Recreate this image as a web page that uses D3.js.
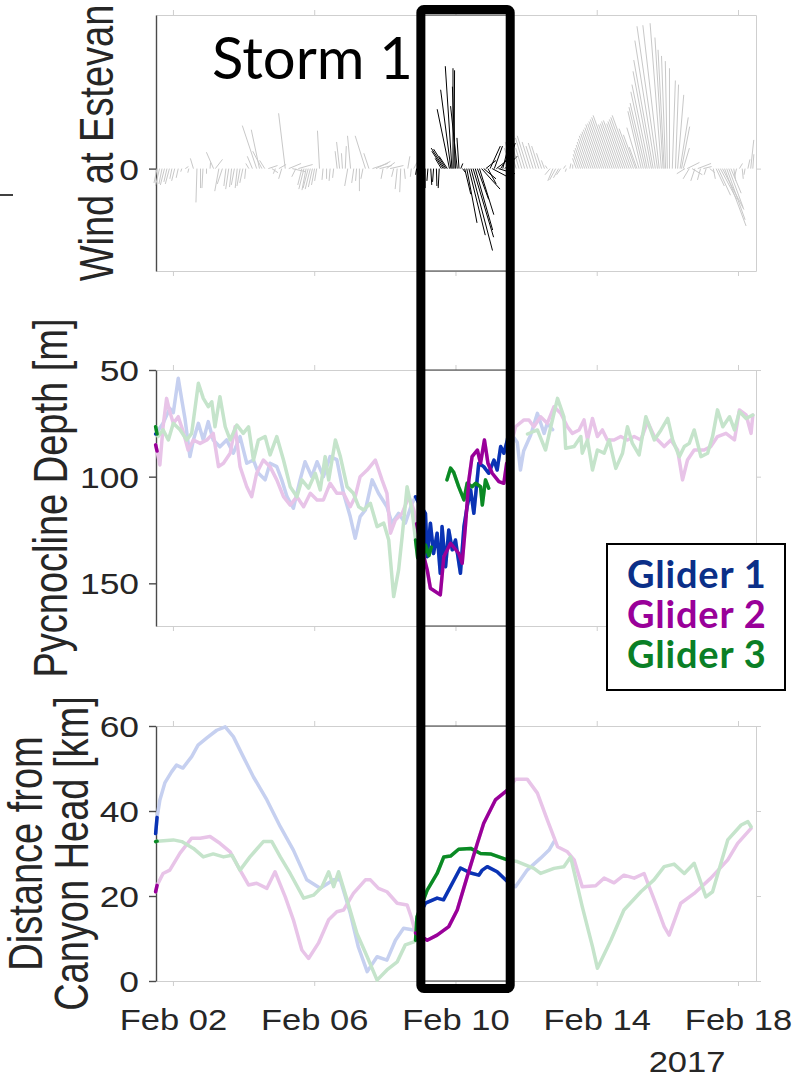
<!DOCTYPE html>
<html>
<head>
<meta charset="utf-8">
<script src="https://cdn.jsdelivr.net/npm/d3@7"></script>
<style>
  body { margin: 0; background: #fff; }
  svg { display: block; }
  .tick text { fill: #262626; }
</style>
</head>
<body>
<div id="chart"></div>
<script>
// ---- wind at Estevan (stick plot): day of Feb 2017, u (east), v (north)
var windDay = [1.55,1.62,1.69,1.76,1.83,1.9,1.97,2.05,2.15,2.25,2.35,2.45,2.58,2.68,2.78,2.85,2.95,3.05,3.15,3.2,
  3.3,3.4,3.5,3.58,3.66,3.74,3.82,3.9,3.98,4.06,4.15,4.25,4.37,4.45,4.52,4.6,4.7,4.8,4.9,5.0,
  5.08,5.18,5.28,5.38,5.48,5.55,5.65,5.71,5.77,5.83,5.89,5.95,6.01,6.07,6.15,6.25,6.35,6.45,6.55,6.65,
  6.72,6.8,6.88,6.95,7.03,7.12,7.2,7.28,7.38,7.45,7.55,7.65,7.75,7.85,7.95,8.05,8.15,8.25,8.35,8.45,
  8.55,8.65,8.75,8.82,
  8.9,8.98,9.06,9.14,9.22,9.3,9.38,9.46,9.54,9.6,9.65,9.69,9.73,9.77,9.83,9.87,9.9,9.93,9.96,10.0,
  10.05,10.1,10.15,10.2,10.26,10.32,10.38,10.44,10.5,10.56,10.62,10.68,10.74,10.8,10.86,10.92,10.98,11.04,11.1,11.16,
  11.22,11.28,11.34,11.4,11.46,
  11.56,11.64,11.72,11.8,11.88,11.96,12.04,12.12,12.2,12.28,12.36,12.44,12.52,12.6,12.68,12.76,12.84,12.92,12.98,13.06,
  13.14,13.24,13.32,13.42,13.48,13.54,13.6,13.66,13.72,13.78,13.84,13.9,13.96,14.02,14.08,14.14,14.2,14.26,14.32,14.38,
  14.44,14.5,14.56,14.62,14.68,14.74,14.8,14.86,14.92,14.98,15.04,15.1,15.14,15.2,
  15.26,15.32,15.38,15.43,15.49,15.55,15.6,15.66,15.72,15.77,15.83,15.88,15.91,15.95,16.0,16.06,16.14,16.23,16.29,16.36,
  16.4,16.45,16.5,16.56,16.62,16.7,16.78,16.86,16.94,17.02,17.1,17.2,17.3,17.38,17.44,17.5,17.56,17.62,17.68,17.74,
  17.8,17.88,17.96,18.04,18.12,18.2,18.28,18.36,18.42];
var windU = [-0.3,-0.4,-0.3,-0.4,-0.3,-0.4,-0.2,-0.3,-0.2,-0.1,0.3,-0.1,-0.3,-0.1,0,-0.1,0,0.05,-0.7,0.7,
  -0.4,-0.5,-0.2,-0.3,-0.2,-0.3,-0.2,-0.3,-0.3,-0.1,-0.3,-0.5,-1.4,-0.8,-0.9,-0.5,0.9,0.6,-0.2,0.7,
  -0.3,-0.65,1.2,1.3,-0.4,1.4,-0.4,-0.5,-0.4,-0.5,-0.5,-0.4,-0.3,-0.2,-0.2,-0.1,0,-0.1,-0.1,-0.2,
  -0.3,-0.1,0.1,-0.3,-0.3,-0.2,-0.1,0,-0.2,-1.0,-0.5,1.5,1.4,1.2,-0.2,0.8,1.3,-0.2,-0.2,-0.1,
  0.1,0.2,-0.1,0.3,
  -0.1,0.1,-0.2,0,-0.1,0.1,-0.1,0.05,-0.1,-0.6,-1.1,-1.3,-1.2,-0.8,-1.2,-1.0,-0.65,0,0.05,-0.3,
  -0.65,-0.2,0.2,0.3,0.6,1.0,1.6,2.1,2.0,1.7,1.1,1.4,1.8,1.2,1.0,0.8,1.0,1.5,0.8,1.3,
  1.6,1.0,0.6,1.2,0.8,
  -0.6,-0.8,-0.85,-0.7,-0.6,-0.9,-1.0,-0.8,-0.7,-0.75,-0.7,-0.5,-0.3,-0.2,-0.5,-0.5,-0.6,-0.5,-0.4,0.2,
  -0.1,0.1,0,-0.36,-0.5,-0.65,-0.72,-0.83,-0.94,-1.04,-1.15,-1.22,-1.3,-1.37,-1.44,-1.55,-1.58,-1.66,-1.73,-1.8,
  -1.87,-1.55,-1.58,-1.66,-1.69,-1.58,-1.66,-1.73,-1.8,-1.87,-1.4,-1.19,-0.76,-1.2,
  -1.3,-1.4,-1.5,-1.6,-1.7,-1.8,-1.9,-2.0,-2.0,-1.6,-1.1,-0.8,-0.6,-0.4,-0.2,0,0.3,0.3,0.6,0.8,
  0.8,0.6,-0.8,1.2,-0.6,1.0,-0.4,1.3,-0.3,0.8,-0.2,0.5,0.2,0.8,1.2,1.6,2.1,2.1,1.8,1.4,
  1.0,0.2,-0.2,0.3,0.1,-0.1,0.2,0.3,0.1];
var windV = [-1.4,-1.7,-1.5,-1.6,-1.3,-1.5,-1.0,-1.2,-0.9,-0.3,0.2,-0.4,1.0,-3.3,-1.9,-1.9,-0.5,0.6,1.6,0.9,
  -2.2,-1.5,-1.7,-2.0,-1.8,-1.6,-1.9,-1.7,-1.4,-1.0,0.5,1.2,4.2,3.8,1.7,0.8,0.3,-0.4,-0.5,0.4,
  -1.0,5.4,0.5,-0.3,-0.8,0.4,-1.6,-2.0,-2.1,-1.9,-2.0,-1.8,-1.6,-1.2,3.7,-1.1,-1.0,-1.2,-0.9,1.7,
  2.6,1.5,2.2,-1.7,3.2,-1.4,-1.2,-2.2,-1.0,3.2,1.5,0.5,0.7,0.3,-1.0,0.6,0.3,-0.8,-2.0,-2.3,
  -1.0,1.2,-0.8,0.6,
  -0.6,0.5,-1.5,-1.9,-1.2,-1.6,-1.3,-1.7,-1.9,1.0,1.7,2.0,1.9,1.2,5.8,7.7,10.0,9.8,9.6,8.0,
  6.1,3.0,0.5,-0.4,-2.5,-5.3,-6.5,-8.0,-6.7,-6.0,-3.0,-4.5,-2.0,-1.0,0.8,-1.5,2.2,-0.8,2.2,1.0,
  -0.5,1.6,2.4,1.2,2.5,
  2.0,2.6,2.8,2.4,2.0,3.0,3.2,2.6,2.2,2.5,2.2,1.5,0.8,0.3,-0.6,-1.2,-1.1,-0.9,-0.6,0.3,
  -0.3,0.5,0.4,1.0,1.4,1.8,2.0,2.3,2.6,2.9,3.2,3.4,3.6,3.8,4.0,4.3,4.4,4.6,4.8,5.0,
  5.2,4.3,4.4,4.6,4.7,4.4,4.6,4.8,5.0,5.2,3.9,3.3,2.1,4.0,
  5.6,6.0,6.4,7.5,8.2,9.5,10.6,12.5,13.9,14.0,14.2,12.8,11.6,11.0,10.5,9.8,8.6,8.2,7.2,5.0,
  4.1,2.0,-0.5,0.6,-1.0,-0.6,-1.2,0.5,-1.1,0.2,-0.6,-0.4,-1.0,-1.7,-2.6,-3.0,-4.0,-5.6,-5.0,-3.8,
  -2.4,-1.2,-0.8,0.5,-1.0,-0.6,0.9,2.8,1.4];

// ---- pycnocline depth [m]
var g1DepthDay = [1.51,1.72,1.91,2.01,2.15,2.25,2.34,2.48,2.58,2.72,2.86,3.00,3.14,3.33,3.52,3.71,3.90,4.09,4.28,4.42,
  4.61,4.75,4.94,5.08,5.23,5.41,5.60,5.74,5.93,6.08,6.26,6.45,6.64,6.83,7.02,7.16,7.30,7.45,7.64,7.82,
  8.06,8.20,8.39,8.58,8.77,8.87,8.95,9.15,9.20,9.29,9.38,9.48,9.57,9.62,9.72,9.81,9.91,10.00,10.14,10.24,
  10.33,10.43,10.52,10.66,10.80,10.94,11.09,11.18,11.28,11.37,11.47,11.51,11.75,11.84,11.93,12.13,12.32,12.51,12.60,12.75];
var g1Depth = [80,75,68,70,53.9,64,72.7,90.6,82.8,75,82.8,74.2,82.8,86,82.8,89,81.2,93.7,92.2,98.4,
  101.5,93.7,95.3,101.5,109.4,114.8,101.5,93,100,93,100,90.6,92,107.8,118.7,128.9,118.7,115.6,101.5,107.8,
  114.1,121.8,117.2,121.8,112.5,109.4,112,117.2,137.5,121.8,136,126.5,145.3,123.4,142.2,125,134.3,129.7,145.3,123.4,
  114.1,106.2,117.2,93.7,95.3,98.4,92.2,96.9,85.9,89,82.8,78.1,84,96.9,88,80.5,70.3,79.7,75,78];
var g2DepthDay = [1.51,1.55,1.63,1.72,1.82,1.91,2.01,2.15,2.29,2.43,2.58,2.77,2.96,3.14,3.29,3.43,3.62,3.76,3.90,4.09,4.23,
  4.37,4.56,4.75,4.94,5.13,5.32,5.51,5.70,5.89,6.08,6.26,6.45,6.64,6.83,7.02,7.16,7.30,7.50,7.73,7.92,
  8.06,8.16,8.30,8.49,8.68,8.82,8.90,9.01,9.20,9.29,9.57,9.67,9.86,10.09,10.19,10.28,10.38,10.47,10.62,10.71,
  10.82,10.92,11.04,11.23,11.37,11.45,11.70,11.94,12.08,12.22,12.41,12.60,12.79,12.98,13.17,13.31,13.50,13.64,13.74,13.88,
  14.02,14.16,14.30,14.49,14.68,14.87,15.06,15.25,15.44,15.63,15.91,16.10,16.29,16.43,16.57,16.76,17.04,17.23,17.42,17.66,
  17.90,18.04,18.23,18.37,18.42];
var g2Depth = [85.1,88,94.5,76.6,63.3,69.5,75,71.9,78.9,87.5,82.8,84.4,82.8,79.7,95.3,93.7,89,76.6,95.3,104.7,109.4,
  98.4,92.2,95.3,101.5,109.4,113.3,109.4,114.1,107.8,110.9,110.9,103.1,107.8,107.8,114.1,109.4,100,96.9,92.2,101.5,
  107.8,126.5,120.3,117.2,109.4,115.6,122,131.2,143.7,152.3,155.4,137.5,131.2,135.9,140.6,123.4,101.5,90.6,87.5,93.7,
  82.8,93.7,98.4,102.3,103.1,93.7,76.6,73.4,73.4,76.6,71.9,75,67.2,70.3,76.6,79.7,78.1,73.4,82.8,72.7,
  81.2,78.1,82.8,82.8,81.2,82.8,81.2,82.8,74.2,81.2,85.9,82.8,87.5,101.5,92.2,87.5,87.5,85.9,81.2,79.7,
  82.8,68.7,71.1,79.7,71.1];
var g3DepthDay = [1.51,1.55,1.58,1.72,1.87,2.01,2.20,2.39,2.53,2.72,2.86,3.00,3.10,3.19,3.33,3.48,3.62,3.81,3.99,4.14,4.28,
  4.42,4.61,4.75,4.94,5.13,5.32,5.51,5.65,5.84,6.03,6.17,6.31,6.41,6.60,6.74,6.93,7.11,7.26,7.40,7.59,
  7.78,7.97,8.11,8.25,8.39,8.49,8.63,8.77,8.87,8.93,9.00,9.08,9.15,9.25,9.32,9.50,9.76,9.86,9.95,10.09,
  10.24,10.33,10.47,10.57,10.71,10.76,10.85,10.94,11.50,12.04,12.32,12.55,12.70,12.89,13.07,13.12,13.36,13.55,13.59,13.74,
  13.88,14.02,14.21,14.35,14.54,14.73,14.87,15.01,15.20,15.39,15.63,15.82,16.01,16.15,16.34,16.48,16.62,16.76,16.95,17.14,
  17.28,17.42,17.57,17.76,17.90,18.04,18.23,18.42];
var g3Depth = [76.6,80,81.2,78,82.8,75,78,82.8,79.7,56.2,63.3,67.2,64.9,76.6,62.5,76.6,82.8,75.8,79.7,76.6,92.2,
  82.8,81.2,89.8,81.2,92.2,104.7,109.4,101.5,105.4,98.4,106.2,90.6,101.5,82.8,90.6,104.7,107.8,114.1,115.6,112.5,
  123.4,121.8,129.7,156.2,143.7,128.1,104.7,115.6,129.7,138,124,139,132,137,133,null,101.5,96,98,104.7,
  110.9,103.1,104.7,103.1,104.7,113.3,101.5,105.4,null,80,78.1,87.5,76.6,63.3,71.9,86.7,85.9,81.2,89,82.8,
  96.9,87.5,89,82.8,96.1,89,76.6,84.4,89.8,71.9,82.8,78.1,72.7,82.8,90.6,85.9,84.4,78.1,90.6,89,
  81.2,68.7,76.6,71.9,78.1,69.5,72.7,71.1];

// ---- distance from canyon head [km]
var g1DistDay = [1.51,1.55,1.63,1.77,1.96,2.10,2.28,2.53,2.71,2.96,3.24,3.48,3.71,3.99,4.28,4.66,5.04,5.41,5.79,6.17,6.55,
  6.74,7.02,7.25,7.50,7.78,8.06,8.30,8.53,8.81,8.91,9.15,9.48,9.66,10.14,10.43,10.66,10.76,10.90,11.18,11.47,
  11.70,12.03,12.41,12.65,12.79];
var g1Dist = [34.7,38.5,42.6,46.6,49.2,50.8,50.1,52.8,55.5,57.2,59.0,59.8,57.5,52.8,48.0,42.6,36.3,30.8,23.8,21.8,23.8,
  23.8,16.0,8.0,2.2,5.7,4.9,9.6,12.4,12.0,14.4,18.3,19.5,19.1,26.6,25.4,24.9,26.1,26.9,25.7,23.4,
  22.2,26.1,28.9,30.8,32.8];
var g2DistDay = [1.51,1.55,1.72,1.91,2.20,2.53,2.77,3.05,3.33,3.62,3.90,4.14,4.37,4.66,4.89,5.18,5.41,5.65,5.84,6.12,6.41,
  6.64,6.83,7.11,7.45,7.59,7.82,8.06,8.35,8.63,8.75,8.87,9.20,9.48,9.81,10.05,10.33,10.62,10.80,11.13,11.47,
  11.70,12.03,12.32,12.60,12.89,13.17,13.36,13.59,13.97,14.21,14.49,14.77,15.06,15.34,15.63,15.91,16.05,16.38,16.76,17.23,
  17.71,17.99,18.37];
var g2Dist = [21.0,22.5,25.3,26.1,30.1,33.6,33.6,34.0,32.4,30.4,26.1,22.6,23.0,21.8,25.7,19.8,14.4,7.3,5.3,8.9,14.4,
  16.3,16.7,20.6,23.8,23.8,21.8,21.0,18.3,17.9,15.0,11.3,9.6,10.8,12.8,16.7,24.5,32.4,37.1,42.6,44.9,
  47.5,47.5,44.2,37.9,31.6,30.4,28.5,22.2,22.4,24.2,23.1,24.9,24.2,25.3,19.1,12.8,10.8,18.3,20.6,24.2,
  28.5,32.4,35.9];
var g3DistDay = [1.51,1.55,2.01,2.25,2.58,2.86,3.14,3.43,3.67,3.90,4.18,4.56,4.80,5.04,5.32,5.70,5.98,6.22,6.41,6.55,6.69,
  6.93,7.21,7.50,7.78,8.06,8.35,8.58,8.82,8.87,8.91,9.20,9.48,9.67,9.86,10.09,10.43,10.71,10.99,11.47,11.75,
  12.22,12.41,12.79,13.07,13.26,13.59,13.88,14.02,14.40,14.77,15.25,15.62,15.91,16.19,16.48,16.76,17.09,17.28,17.71,18.09,
  18.28,18.37];
var g3Dist = [32.8,32.9,33.2,32.8,31.2,29.2,29.9,29.2,29.6,26.1,29.2,32.8,32.8,29.2,25.3,19.5,20.2,22.2,25.7,22.2,25.7,
  19.1,11.2,5.7,0.2,2.6,4.5,8.5,9.2,9.6,15.1,21.4,25.3,29.2,29.4,31.0,31.2,30.0,29.9,28.5,28.1,
  26.5,25.3,26.5,26.9,29.2,17.5,8.1,3.0,9.6,16.7,21.0,23.8,26.9,27.5,25.3,27.7,19.8,21.0,33.2,36.7,
  37.5,36.3];

// ---- labels, ticks, colours
var gliderNames = ["Glider 1", "Glider 2", "Glider 3"];
var gliderDark = ["#0a33b4", "#990099", "#0a8a24"];
var gliderPale = ["#c6d0f0", "#e8c4e8", "#c5e4cb"];
var legendColors = ["#0b2f88", "#990099", "#0a7f26"];
var stormWindows = [[1.5, 1.56], [8.86, 11.52]];
var stormBox = [9.02, 11.55];
var xTickDays = [2, 6, 10, 14, 18];
var windTicks = [0], depthTicks = [50, 100, 150], distTicks = [0, 20, 40, 60];
var yLabels = [["Wind at Estevan"], ["Pycnocline Depth [m]"], ["Distance from", "Canyon Head [km]"]];

var W = 792, H = 1080;
var tickFont = '"Liberation Sans", Arial, Helvetica, sans-serif';
var toDate = function(day){ return new Date(Date.UTC(2017, 1, 1) + (day - 1) * 864e5); };
var inStorm = function(day){ return stormWindows.some(function(w){ return day >= w[0] && day <= w[1]; }); };

var svg = d3.select("#chart").append("svg").attr("width", W).attr("height", H);

var x = d3.scaleUtc().domain([toDate(1.52), toDate(18.51)]).range([156, 756]);
var yWind = d3.scaleLinear().domain([-10, 15]).range([271, 15]);
var yDepth = d3.scaleLinear().domain([50, 170]).range([370, 626]);
var yDist = d3.scaleLinear().domain([0, 60]).range([981, 726]);

var panels = [
  {y: yWind, ticks: windTicks, top: 15, bottom: 271, label: yLabels[0], lx: [113]},
  {y: yDepth, ticks: depthTicks, top: 370, bottom: 626, label: yLabels[1], lx: [67]},
  {y: yDist, ticks: distTicks, top: 726, bottom: 981, label: yLabels[2], lx: [42, 88]}
];
var xTickDates = xTickDays.map(toDate);

panels.forEach(function(p, i){
  var g = svg.append("g").attr("class", "frame");
  g.append("g").attr("transform", "translate(0," + p.top + ")")
    .call(d3.axisTop(x).tickValues(xTickDates).tickSize(5).tickSizeOuter(0).tickFormat(""));
  var bot = g.append("g").attr("transform", "translate(0," + p.bottom + ")")
    .call(d3.axisBottom(x).tickValues(xTickDates).tickSize(5).tickSizeOuter(0)
      .tickFormat(i == 2 ? d3.utcFormat("%b %d") : ""));
  g.append("g").attr("transform", "translate(756,0)")
    .call(d3.axisRight(p.y).tickValues(p.ticks).tickSize(5).tickSizeOuter(0).tickFormat(""));
  g.selectAll(".domain, .tick line").attr("stroke", "#cfcfcf").attr("stroke-width", 1);

  var left = g.append("g").attr("transform", "translate(156,0)")
    .call(d3.axisLeft(p.y).tickValues(p.ticks).tickSize(7).tickSizeOuter(0));
  left.selectAll(".domain, .tick line").attr("stroke", "#4a4a4a").attr("stroke-width", 1.4);
  left.selectAll(".tick text").attr("x", null).attr("dy", "0.35em")
    .attr("transform", "translate(-17,0) scale(1.18,1)")
    .style("font-family", tickFont).style("font-size", "30px");

  if (i == 2) {
    bot.selectAll(".tick text").attr("y", null).attr("dy", null)
      .attr("transform", "translate(0,49) scale(1.15,1)")
      .style("font-family", tickFont).style("font-size", "30px");
  }

  // darker frame pieces inside the storm box
  var bx0 = x(toDate(stormBox[0])), bx1 = x(toDate(stormBox[1]));
  [p.top, p.bottom].forEach(function(yy){
    g.append("line").attr("x1", bx0).attr("x2", bx1).attr("y1", yy).attr("y2", yy)
      .attr("stroke", "#3a3a3a").attr("stroke-width", 1);
  });

  p.label.forEach(function(t, k){
    g.append("text")
      .attr("transform", "translate(" + p.lx[k] + "," + ((p.top + p.bottom) / 2) + ") rotate(-90) scale(1,1.25)")
      .attr("text-anchor", "middle")
      .style("font-family", tickFont).style("font-size", "38px").attr("fill", "#262626")
      .text(t);
  });
});

// year under the last tick
svg.append("text").attr("transform", "translate(687,1072) scale(1.15,1)")
  .attr("text-anchor", "middle").style("font-family", tickFont).style("font-size", "30px")
  .attr("fill", "#262626").text("2017");

// ---- wind sticks
var unitPx = yWind(0) - yWind(1);
var sticks = windDay.map(function(d, i){ return {t: d, u: windU[i], v: windV[i]}; });
svg.append("g").selectAll("line").data(sticks).enter().append("line")
  .attr("x1", function(d){ return x(toDate(d.t)); })
  .attr("y1", yWind(0))
  .attr("x2", function(d){ return x(toDate(d.t)) + d.u * unitPx; })
  .attr("y2", function(d){ return yWind(d.v); })
  .attr("stroke", function(d){ return inStorm(d.t) && d.t > 2 ? "#000" : "#c8c8c8"; })
  .attr("stroke-width", 1);

// ---- glider lines
function series(days, vals){ return days.map(function(d, i){ return {t: d, v: vals[i]}; }); }
var depthSeries = [series(g1DepthDay, g1Depth), series(g2DepthDay, g2Depth), series(g3DepthDay, g3Depth)];
var distSeries = [series(g1DistDay, g1Dist), series(g2DistDay, g2Dist), series(g3DistDay, g3Dist)];

function drawLines(list, y){
  var pale = d3.line().defined(function(d){ return d.v != null; })
    .x(function(d){ return x(toDate(d.t)); }).y(function(d){ return y(d.v); });
  var dark = d3.line().defined(function(d){ return d.v != null && inStorm(d.t); })
    .x(function(d){ return x(toDate(d.t)); }).y(function(d){ return y(d.v); });
  var g = svg.append("g").attr("fill", "none").attr("stroke-width", 3.5)
    .attr("stroke-linejoin", "round").attr("stroke-linecap", "round");
  list.forEach(function(s, i){
    g.append("path").attr("d", pale(s)).attr("stroke", gliderPale[i]);
  });
  [0, 2, 1].forEach(function(i){
    g.append("path").attr("d", dark(list[i])).attr("stroke", gliderDark[i]);
  });
}
drawLines(depthSeries, yDepth);
drawLines(distSeries, yDist);

// ---- storm annotation
svg.append("text").attr("x", 212).attr("y", 79)
  .style("font-family", "Lato, 'Open Sans', sans-serif").style("font-size", "58px")
  .attr("fill", "#000").text("Storm 1");
svg.append("rect")
  .attr("x", x(toDate(stormBox[0]))).attr("y", 9.5)
  .attr("width", x(toDate(stormBox[1])) - x(toDate(stormBox[0]))).attr("height", 979)
  .attr("rx", 3).attr("fill", "none").attr("stroke", "#000").attr("stroke-width", 9);
svg.append("line").attr("x1", 0).attr("x2", 13).attr("y1", 195).attr("y2", 195)
  .attr("stroke", "#000").attr("stroke-width", 1.5);

// ---- legend
var leg = svg.append("g").attr("transform", "translate(607,544)");
leg.append("rect").attr("width", 178).attr("height", 146)
  .attr("fill", "#fff").attr("stroke", "#000").attr("stroke-width", 2);
leg.selectAll("text").data(gliderNames).enter().append("text")
  .attr("x", 20).attr("y", function(d, i){ return 44 + i * 40; })
  .style("font-family", "Lato, 'Open Sans', sans-serif").style("font-weight", "bold")
  .style("font-size", "38px").style("letter-spacing", "0.8px")
  .attr("fill", function(d, i){ return legendColors[i]; })
  .text(function(d){ return d; });
</script>
</body>
</html>
